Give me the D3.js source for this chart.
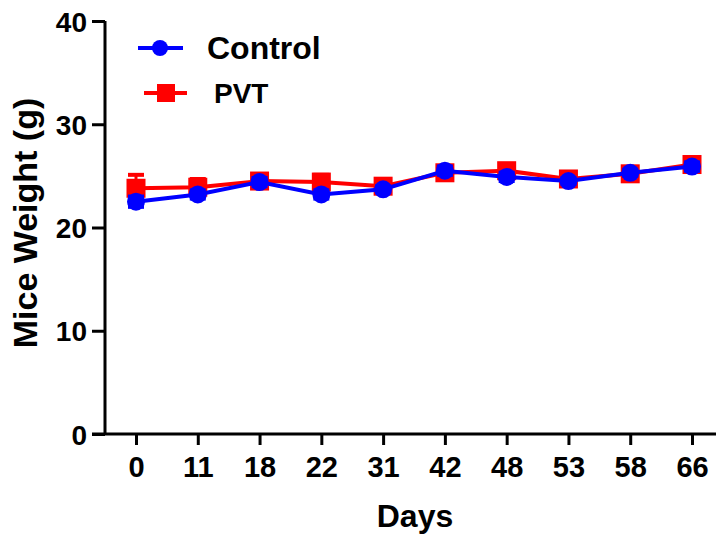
<!DOCTYPE html>
<html>
<head>
<meta charset="utf-8">
<script src="https://cdn.jsdelivr.net/npm/d3@7"></script>
<style>
  body { margin: 0; background: #fff; }
  svg { display: block; font-family: Arial, "Liberation Sans", sans-serif; font-weight: bold; }
</style>
</head>
<body>
<svg width="720" height="539"></svg>
<script>
// data
var days = ["0", "11", "18", "22", "31", "42", "48", "53", "58", "66"];
var controlMean = [22.5, 23.2, 24.4, 23.2, 23.7, 25.5, 24.9, 24.5, 25.3, 25.9];
var controlErr  = [0.5, 0.4, 0.4, 0.4, 0.3, 0.4, 0.4, 0.3, 0.3, 0.4];
var pvtMean = [23.8, 23.9, 24.5, 24.4, 24.0, 25.3, 25.5, 24.7, 25.2, 26.1];
var pvtErr  = [1.3, 0.8, 0.5, 0.7, 0.5, 0.5, 0.6, 0.5, 0.4, 0.6];
var yTicks = [0, 10, 20, 30, 40];

var svg = d3.select("svg");

var x = d3.scalePoint()
    .domain(days)
    .range([136, 692]);

var y = d3.scaleLinear()
    .domain([0, 40])
    .range([434, 21]);

// y axis
var yAxis = svg.append("g")
    .attr("transform", "translate(105,0)")
    .call(d3.axisLeft(y).tickValues(yTicks).tickSize(13).tickPadding(5));
yAxis.select(".domain").attr("stroke", "#000").attr("stroke-width", 3)
    .attr("d", "M0," + y(40) + "V" + y(0));
yAxis.selectAll(".tick line").attr("stroke", "#000").attr("stroke-width", 3);
yAxis.selectAll(".tick text")
    .attr("fill", "#000")
    .style("font-size", "28px")
    .attr("dy", "0.36em");

// x axis
var xAxis = svg.append("g")
    .attr("transform", "translate(0," + y(0) + ")")
    .call(d3.axisBottom(x).tickSize(11).tickPadding(11));
xAxis.select(".domain").attr("stroke", "#000").attr("stroke-width", 3)
    .attr("d", "M92,0H716");
xAxis.selectAll(".tick line").attr("stroke", "#000").attr("stroke-width", 3);
xAxis.selectAll(".tick text")
    .attr("fill", "#000")
    .style("font-size", "29px");

// axis titles
svg.append("text")
    .attr("x", 415).attr("y", 527)
    .attr("text-anchor", "middle")
    .style("font-size", "32px")
    .text("Days");

svg.append("text")
    .attr("transform", "translate(37,223) rotate(-90)")
    .attr("text-anchor", "middle")
    .style("font-size", "34px")
    .text("Mice Weight (g)");

var line = d3.line()
    .x(function(d) { return x(d.day); })
    .y(function(d) { return y(d.v); });

function pack(mean, err) {
    return days.map(function(d, i) { return {day: d, v: mean[i], e: err[i]}; });
}

var series = [
    {name: "PVT", color: "#ff0000", shape: "square", data: pack(pvtMean, pvtErr)},
    {name: "Control", color: "#0000ff", shape: "circle", data: pack(controlMean, controlErr)}
];

series.forEach(function(s) {
    var g = svg.append("g");
    // error bars
    var eb = g.selectAll(".eb").data(s.data).enter().append("g");
    eb.append("line")
        .attr("x1", function(d) { return x(d.day); })
        .attr("x2", function(d) { return x(d.day); })
        .attr("y1", function(d) { return y(d.v + d.e); })
        .attr("y2", function(d) { return y(d.v - d.e); })
        .attr("stroke", s.color).attr("stroke-width", 3);
    eb.append("line")
        .attr("x1", function(d) { return x(d.day) - 8; })
        .attr("x2", function(d) { return x(d.day) + 8; })
        .attr("y1", function(d) { return y(d.v + d.e); })
        .attr("y2", function(d) { return y(d.v + d.e); })
        .attr("stroke", s.color).attr("stroke-width", 4);
    eb.append("line")
        .attr("x1", function(d) { return x(d.day) - 8; })
        .attr("x2", function(d) { return x(d.day) + 8; })
        .attr("y1", function(d) { return y(d.v - d.e); })
        .attr("y2", function(d) { return y(d.v - d.e); })
        .attr("stroke", s.color).attr("stroke-width", 4);

    g.append("path")
        .datum(s.data)
        .attr("fill", "none")
        .attr("stroke", s.color)
        .attr("stroke-width", 4)
        .attr("d", line);

    if (s.shape === "circle") {
        g.selectAll("circle").data(s.data).enter().append("circle")
            .attr("cx", function(d) { return x(d.day); })
            .attr("cy", function(d) { return y(d.v); })
            .attr("r", 9)
            .attr("fill", s.color);
    } else {
        g.selectAll("rect").data(s.data).enter().append("rect")
            .attr("x", function(d) { return x(d.day) - 9.5; })
            .attr("y", function(d) { return y(d.v) - 9.5; })
            .attr("width", 19).attr("height", 19)
            .attr("fill", s.color);
    }
});

// legend
var legend = svg.append("g");
legend.append("line").attr("x1", 138).attr("x2", 183).attr("y1", 48).attr("y2", 48)
    .attr("stroke", "#0000ff").attr("stroke-width", 4);
legend.append("circle").attr("cx", 160).attr("cy", 48).attr("r", 8).attr("fill", "#0000ff");
legend.append("text")
    .attr("x", 207).attr("y", 59)
    .style("font-size", "32px")
    .text("Control");

legend.append("line").attr("x1", 144).attr("x2", 187).attr("y1", 93).attr("y2", 93)
    .attr("stroke", "#ff0000").attr("stroke-width", 4);
legend.append("rect").attr("x", 157).attr("y", 84).attr("width", 18).attr("height", 18)
    .attr("fill", "#ff0000");
legend.append("text")
    .attr("x", 214).attr("y", 103)
    .style("font-size", "28px")
    .text("PVT");
</script>
</body>
</html>
